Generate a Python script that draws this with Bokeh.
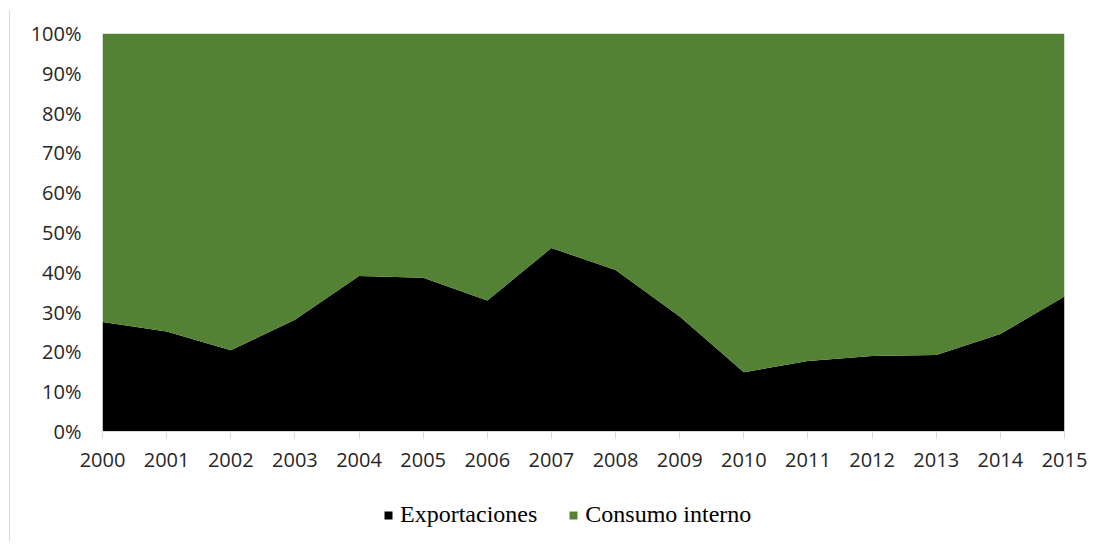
from bokeh.plotting import figure
from bokeh.layouts import column
from bokeh.models import Range1d, NumeralTickFormatter, Legend, LegendItem, FixedTicker, ColumnDataSource
from bokeh.embed import file_html
from bokeh.resources import INLINE

years = list(range(2000, 2016))
exportaciones = [0.275, 0.251, 0.204, 0.281, 0.391, 0.386, 0.329, 0.461, 0.406, 0.289,
                 0.149, 0.177, 0.190, 0.192, 0.245, 0.339]
consumo_interno = [1 - v for v in exportaciones]
y_ticks = [0, 0.1, 0.2, 0.3, 0.4, 0.5, 0.6, 0.7, 0.8, 0.9, 1.0]
series_names = ["Exportaciones", "Consumo interno"]
series_colors = ["#000000", "#548235"]

src = ColumnDataSource(dict(year=years, exp=exportaciones, cons=consumo_interno))

p = figure(frame_width=962, frame_height=398,
           output_backend="svg", toolbar_location=None,
           x_range=Range1d(2000, 2015), y_range=Range1d(0, 1),
           min_border_left=102, min_border_right=32, min_border_top=33, min_border_bottom=60)

r = p.varea_stack(["exp", "cons"], x="year", source=src, color=series_colors)

p.outline_line_color = None
p.xgrid.visible = False
p.ygrid.visible = False
p.border_fill_color = None

p.xaxis.ticker = FixedTicker(ticks=years)
p.xaxis.axis_line_color = "#d9d9d9"
p.xaxis.major_tick_line_color = "#d9d9d9"
p.xaxis.major_tick_out = 7
p.xaxis.major_tick_in = 0
p.xaxis.minor_tick_line_color = None
p.xaxis.major_label_text_font = "Open Sans"
p.xaxis.major_label_text_font_size = "20px"
p.xaxis.major_label_text_color = "#262626"
p.xaxis.major_label_standoff = 14

p.yaxis.ticker = FixedTicker(ticks=y_ticks)
p.yaxis.formatter = NumeralTickFormatter(format="0%")
p.yaxis.axis_line_color = None
p.yaxis.major_tick_line_color = None
p.yaxis.minor_tick_line_color = None
p.yaxis.major_label_text_font = "Open Sans"
p.yaxis.major_label_text_font_size = "20px"
p.yaxis.major_label_text_color = "#262626"
p.yaxis.major_label_standoff = 15

p.styles = {"background-image": "linear-gradient(to right, transparent 9px, #d9d9d9 9px, #d9d9d9 10px, transparent 10px)",
            "background-repeat": "no-repeat",
            "background-position": "0 10px",
            "background-size": "100% calc(100% - 10px)"}

# legend strip below the chart
p2 = figure(width=1096, height=50, output_backend="svg", toolbar_location=None,
            x_range=Range1d(0, 1), y_range=Range1d(0, 1), min_border=0)
r2 = p2.varea_stack(["exp", "cons"], x="year", source=src, color=series_colors)
p2.axis.visible = False
p2.grid.visible = False
p2.outline_line_color = None
p2.border_fill_color = None
p2.background_fill_color = None
legend = Legend(items=[LegendItem(label=series_names[0], renderers=[r2[0]]),
                       LegendItem(label=series_names[1], renderers=[r2[1]])],
                orientation="horizontal", location=(281, 13),
                label_text_font="Liberation Serif", label_text_font_size="24px",
                label_text_color="#000000", glyph_width=10, glyph_height=10,
                label_standoff=7, spacing=31, border_line_color=None,
                background_fill_alpha=0, margin=0, padding=4)
p2.add_layout(legend, "center")
p2.styles = {"background-image": "linear-gradient(to right, transparent 9px, #d9d9d9 9px, #d9d9d9 10px, transparent 10px)",
             "background-repeat": "no-repeat"}

open("out.html", "w").write(file_html(column(p, p2, spacing=0), INLINE))
